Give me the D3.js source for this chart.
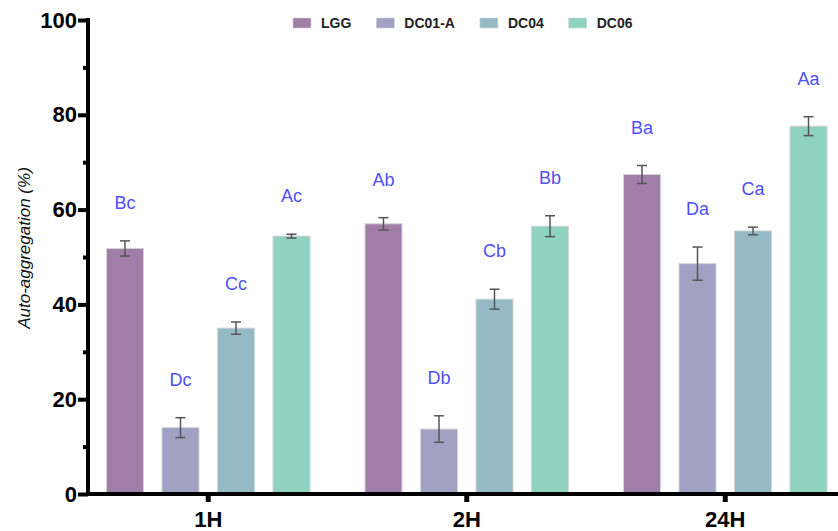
<!DOCTYPE html>
<html>
<head>
<meta charset="utf-8">
<script src="https://cdn.jsdelivr.net/npm/d3@7"></script>
<style>
  body { margin: 0; background: #fff; }
  svg { display: block; font-family: "Liberation Sans", Arial, sans-serif; }
</style>
</head>
<body>
<script>
// data
var categories = ["1H", "2H", "24H"];
var series = ["LGG", "DC01-A", "DC04", "DC06"];
var meanLGG = [51.8, 57.0, 67.4];
var meanDC01A = [14.0, 13.7, 48.6];
var meanDC04 = [35.0, 41.1, 55.5];
var meanDC06 = [54.4, 56.5, 77.6];
var sdLGG = [1.6, 1.3, 1.9];
var sdDC01A = [2.1, 2.8, 3.5];
var sdDC04 = [1.3, 2.1, 0.8];
var sdDC06 = [0.4, 2.2, 2.0];
var lettersLGG = ["Bc", "Ab", "Ba"];
var lettersDC01A = ["Dc", "Db", "Da"];
var lettersDC04 = ["Cc", "Cb", "Ca"];
var lettersDC06 = ["Ac", "Bb", "Aa"];
var yTicks = [0, 20, 40, 60, 80, 100];
var yMinorTicks = [10, 30, 50, 70, 90];

var colors = ["#a07ea7", "#a1a1c3", "#95b9c5", "#90d2c0"];

var w = 838, h = 531;
var svg = d3.select("body").append("svg")
  .attr("width", w)
  .attr("height", h);

// rows for each bar
var means = [meanLGG, meanDC01A, meanDC04, meanDC06];
var sds = [sdLGG, sdDC01A, sdDC04, sdDC06];
var letters = [lettersLGG, lettersDC01A, lettersDC04, lettersDC06];
var rows = [];
categories.forEach(function(c, ci) {
  series.forEach(function(s, si) {
    rows.push({cat: c, ser: s, si: si, v: means[si][ci], sd: sds[si][ci], lab: letters[si][ci]});
  });
});

var y = d3.scaleLinear().domain([0, 100]).range([494, 20]);
var x0 = d3.scaleBand().domain(categories).range([79, 854.5]);
var x1 = d3.scaleBand().domain(series).range([0, x0.bandwidth()])
  .paddingInner(0.333).paddingOuter(0.495);

// bars
var bars = svg.append("g").attr("class", "bars");
bars.selectAll("rect")
  .data(rows)
  .enter().append("rect")
  .attr("x", function(d) { return x0(d.cat) + x1(d.ser); })
  .attr("y", function(d) { return y(d.v); })
  .attr("width", x1.bandwidth())
  .attr("height", function(d) { return y(0) - y(d.v); })
  .style("fill", function(d) { return colors[d.si]; })
  .style("stroke", "#d4d4d4")
  .style("stroke-width", 1);

// error bars
var err = svg.append("g").attr("class", "errors")
  .style("stroke", "#555")
  .style("stroke-width", 1.5);
var cx = function(d) { return x0(d.cat) + x1(d.ser) + x1.bandwidth() / 2; };
err.selectAll(".stem").data(rows).enter().append("line")
  .attr("x1", cx).attr("x2", cx)
  .attr("y1", function(d) { return y(d.v - d.sd); })
  .attr("y2", function(d) { return y(d.v + d.sd); });
err.selectAll(".capTop").data(rows).enter().append("line")
  .attr("x1", function(d) { return cx(d) - 5; })
  .attr("x2", function(d) { return cx(d) + 5; })
  .attr("y1", function(d) { return y(d.v + d.sd); })
  .attr("y2", function(d) { return y(d.v + d.sd); });
err.selectAll(".capBot").data(rows).enter().append("line")
  .attr("x1", function(d) { return cx(d) - 5; })
  .attr("x2", function(d) { return cx(d) + 5; })
  .attr("y1", function(d) { return y(d.v - d.sd); })
  .attr("y2", function(d) { return y(d.v - d.sd); });

// significance letters
svg.append("g").selectAll("text")
  .data(rows)
  .enter().append("text")
  .attr("x", cx)
  .attr("y", function(d) { return y(d.v + d.sd) - 32; })
  .attr("text-anchor", "middle")
  .style("font-size", "18px")
  .style("fill", "#5050f5")
  .text(function(d) { return d.lab; });

// y axis
var yAxis = svg.append("g")
  .attr("transform", "translate(88,0)")
  .call(d3.axisLeft(y).tickValues(yTicks).tickSize(10).tickSizeOuter(0).tickPadding(1));
yAxis.select(".domain").remove();
yAxis.selectAll(".tick line").style("stroke", "#000").style("stroke-width", 4);
yAxis.selectAll(".tick text")
  .style("font-size", "22px")
  .style("font-weight", "bold")
  .style("fill", "#000");
var yMinor = svg.append("g")
  .attr("transform", "translate(88,0)")
  .call(d3.axisLeft(y).tickValues(yMinorTicks).tickSize(5).tickFormat(""));
yMinor.select(".domain").remove();
yMinor.selectAll(".tick line").style("stroke", "#000").style("stroke-width", 4);
svg.append("line")
  .attr("x1", 88).attr("x2", 88)
  .attr("y1", y(100) - 2).attr("y2", y(0) + 2)
  .style("stroke", "#000").style("stroke-width", 4);

// x axis
var xAxis = svg.append("g")
  .attr("transform", "translate(0," + y(0) + ")")
  .call(d3.axisBottom(x0).tickSize(8).tickSizeOuter(0).tickPadding(9));
xAxis.select(".domain").remove();
xAxis.selectAll(".tick line").style("stroke", "#000").style("stroke-width", 5);
xAxis.selectAll(".tick text")
  .style("font-size", "22px")
  .style("font-weight", "bold")
  .style("fill", "#000");
svg.append("line")
  .attr("x1", 86).attr("x2", w)
  .attr("y1", y(0)).attr("y2", y(0))
  .style("stroke", "#000").style("stroke-width", 4);

// y title
svg.append("text")
  .attr("transform", "translate(30,248) rotate(-90)")
  .attr("text-anchor", "middle")
  .style("font-size", "17px")
  .style("font-style", "italic")
  .style("fill", "#111")
  .text("Auto-aggregation (%)");

// legend
var legend = svg.append("g").attr("class", "legend");
var lx = 293;
series.forEach(function(s, i) {
  legend.append("rect")
    .attr("x", lx).attr("y", 18)
    .attr("width", 18).attr("height", 10)
    .style("fill", colors[i])
    .style("stroke", "#d4d4d4").style("stroke-width", 0.5);
  var t = legend.append("text")
    .attr("x", lx + 28).attr("y", 28)
    .style("font-size", "14px")
    .style("font-weight", "bold")
    .style("fill", "#222")
    .text(s);
  lx = lx + 28 + t.node().getComputedTextLength() + 25;
});
</script>
</body>
</html>
